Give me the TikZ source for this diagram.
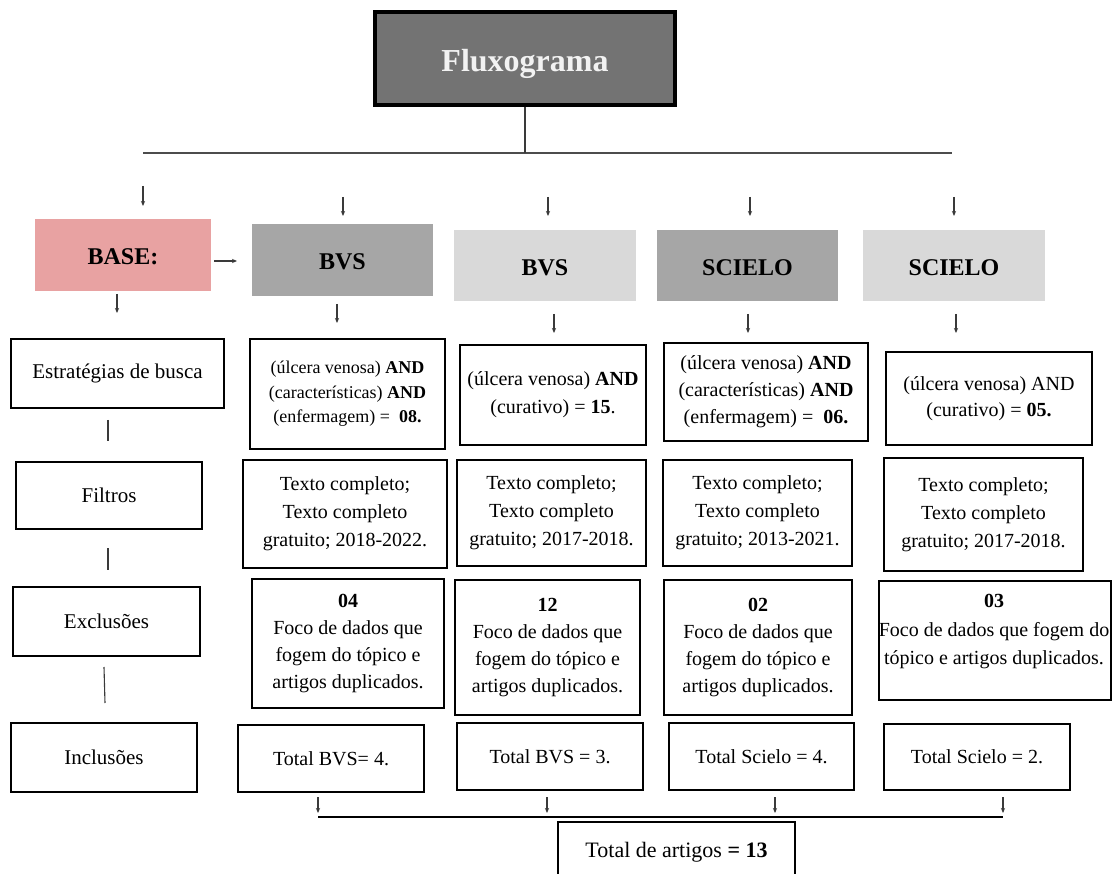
\documentclass[tikz,border=0pt]{standalone}
\usepackage{fontspec}
\setmainfont{Liberation Serif}
\usetikzlibrary{arrows.meta}
\definecolor{titlegray}{HTML}{737373}
\definecolor{darkhead}{HTML}{A6A6A6}
\definecolor{lighthead}{HTML}{D9D9D9}
\definecolor{basepink}{HTML}{E8A2A2}
\definecolor{linegray}{HTML}{3A3A3A}
\newcommand{\fsz}[2]{\fontsize{#1}{#2}\selectfont}
\tikzset{
  wbox/.style={draw=black, line width=2.9pt, fill=white, align=center, inner sep=0pt},
  hbox/.style={draw=none, align=center, inner sep=0pt, font=\fsz{24}{28}\bfseries, text height=20pt, text depth=0pt},
  sz/.style 2 args={minimum width=#1pt, minimum height=#2pt},
  arr/.style={draw=linegray, line width=1.1pt, -{Stealth[length=5pt,width=4.2pt]}},
  conn/.style={draw=linegray, line width=1.1pt},
  lbl/.style={font=\fsz{21}{25}},
  qtxt/.style={font=\fsz{20}{27}},
  ftxt/.style={font=\fsz{20}{28}},
  etxt/.style={font=\fsz{20}{26.7}},
}
\begin{document}
\begin{tikzpicture}[x=1pt,y=-1pt]
\useasboundingbox (0,0) rectangle (1114,874);

% title
\node[draw=black, line width=3.3pt, fill=titlegray, text=white!95!black,
      font=\fsz{32}{36}\bfseries, sz={300}{93}, inner sep=0pt,
      text height=34pt, text depth=7pt] (title) at (525,58.5) {Fluxograma};
\coordinate (hl) at (143,153);
\coordinate (hr) at (952,153);
\draw[conn, draw=black!70] (hl) -- (hr);
\draw[conn] (title.south) -- (title.south |- hl);

% header boxes
\node[hbox, fill=basepink, sz={176}{72}] (base) at (123,255) {BASE:};
\node[hbox, fill=darkhead, sz={181}{72}] (h1) at (342.5,260) {BVS};
\node[hbox, fill=lighthead, sz={182}{71}] (h2) at (545,265.5) {BVS};
\node[hbox, fill=darkhead, sz={181}{71}] (h3) at (747.5,265.5) {SCIELO};
\node[hbox, fill=lighthead, sz={182}{71}] (h4) at (954,265.5) {SCIELO};

% small arrows
\foreach \n/\x/\ya/\yb in {t0/143/186/206, t1/343/197/216, t2/548/197/216, t3/750/197/216, t4/954/197/216,
                           b0/117/294/313, b1/337/304/323, b2/554/314/333, b3/748/314/333, b4/956/314/333,
                           z1/318/797/813, z2/547/797/813, z3/775/797/813, z4/1003/797/813}{
  \coordinate (\n s) at (\x,\ya);
  \coordinate (\n e) at (\x,\yb);
  \draw[arr] (\n s) -- (\n e);
}
\coordinate (bh s) at (214,261);
\coordinate (bh e) at (237,261);
\draw[arr] (bh s) -- (bh e);

% left column
\node[wbox, lbl, sz={213}{69}] (est) at (117.5,373.5) {Estratégias de busca};
\node[wbox, lbl, sz={186}{67}] (fil) at (109,495.5) {Filtros};
\node[wbox, lbl, sz={187}{69}] (exc) at (106.5,621.5) {Exclusões};
\node[wbox, lbl, sz={186}{69}] (inc) at (104,757.5) {Inclusões};
\coordinate (v1a) at (108,420); \coordinate (v1b) at (108,441);
\coordinate (v2a) at (108,548); \coordinate (v2b) at (108,570);
\coordinate (v3a) at (104,667); \coordinate (v3b) at (105,703);
\draw[conn] (v1a) -- (v1b);
\draw[conn] (v2a) -- (v2b);
\draw[conn] (v3a) -- (v3b);

% query boxes
\node[wbox, font=\fsz{18}{24.5}, sz={195}{110}] (q1) at (347.5,394)
  {(úlcera venosa) \textbf{AND}\\(características) \textbf{AND}\\(enfermagem) =~ \textbf{08.}};
\node[wbox, font=\fsz{20}{28}, sz={186}{100}] (q2) at (553,395)
  {(úlcera venosa) \textbf{AND}\\(curativo) = \textbf{15}.};
\node[wbox, qtxt, sz={204}{98}] (q3) at (766,392)
  {(úlcera venosa) \textbf{AND}\\(características) \textbf{AND}\\(enfermagem) =~ \textbf{06.}};
\node[wbox, font=\fsz{20}{26}, sz={206}{93}] (q4) at (989,398.5)
  {(úlcera venosa) AND\\(curativo) = \textbf{05.}};

% filter boxes
\node[wbox, ftxt, sz={204}{108}] (f1) at (345,514)
  {Texto completo;\\Texto completo\\gratuito; 2018-2022.};
\node[wbox, ftxt, sz={189}{106}] (f2) at (551.5,513)
  {Texto completo;\\Texto completo\\gratuito; 2017-2018.};
\node[wbox, ftxt, sz={189}{106}] (f3) at (757.5,513)
  {Texto completo;\\Texto completo\\gratuito; 2013-2021.};
\node[wbox, ftxt, sz={199}{113}] (f4) at (983.5,514.5)
  {Texto completo;\\Texto completo\\gratuito; 2017-2018.};

% exclusion boxes
\node[wbox, etxt, sz={192}{129}] (e1) at (348,643.5)
  {\textbf{04}\\Foco de dados que\\fogem do tópico e\\artigos duplicados.};
\node[wbox, etxt, sz={185}{135}] (e2) at (547.5,647.5)
  {\textbf{12}\\Foco de dados que\\fogem do tópico e\\artigos duplicados.};
\node[wbox, etxt, sz={188}{135}] (e3) at (758,647.5)
  {\textbf{02}\\Foco de dados que\\fogem do tópico e\\artigos duplicados.};
\node[wbox, sz={232}{119}] (e4) at (995,640.5) {};
\node[align=center, inner sep=0pt, font=\fsz{20}{28.5}] (e4t) at (994,632)
  {\textbf{03}\\Foco de dados que fogem do\\tópico e artigos duplicados.};

% inclusion boxes
\node[wbox, ftxt, sz={186}{67}] (i1) at (331,758.5) {Total BVS= 4.};
\node[wbox, ftxt, sz={186}{67}] (i2) at (550,756.5) {Total BVS = 3.};
\node[wbox, ftxt, sz={185}{67}] (i3) at (761.5,756.5) {Total Scielo = 4.};
\node[wbox, ftxt, sz={186}{66}] (i4) at (977,757) {Total Scielo = 2.};

% bottom
\coordinate (bl) at (318,817);
\coordinate (br) at (1003,817);
\draw[conn, draw=black, line width=1.6pt] (bl) -- (br);
\node[wbox, font=\fsz{22}{26}, sz={237}{60}] (tot) at (676.5,852) {Total de artigos \textbf{= 13}};
\end{tikzpicture}
\end{document}
